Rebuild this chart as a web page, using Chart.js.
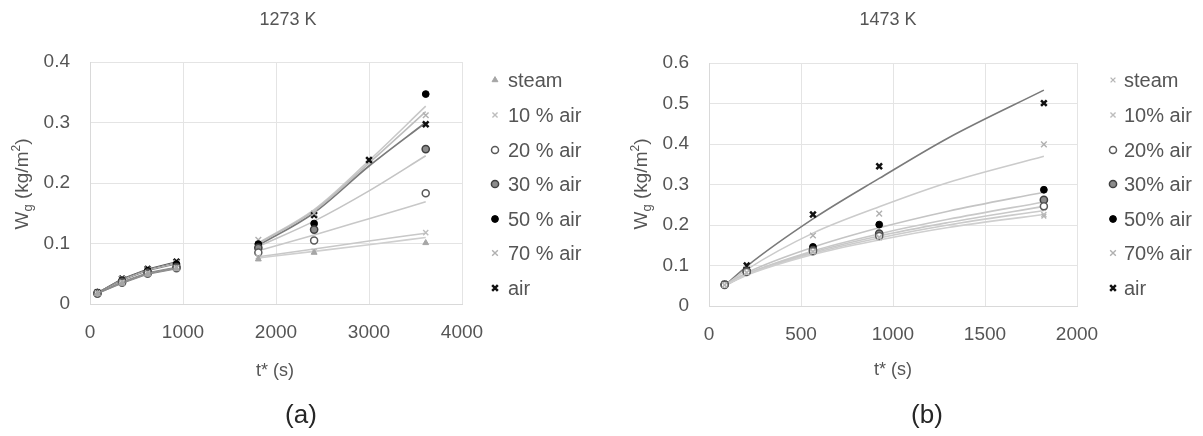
<!DOCTYPE html>
<html><head><meta charset="utf-8">
<script src="https://cdn.jsdelivr.net/npm/chart.js@4.4.1/dist/chart.umd.min.js"></script>
<style>
html,body{margin:0;padding:0;background:#fff;width:1203px;height:436px;overflow:hidden}
#wa{position:absolute;left:0;top:0;width:600px;height:436px}
#wb{position:absolute;left:600px;top:0;width:603px;height:436px}
</style></head><body>
<div id="wa"><canvas id="ca"></canvas></div>
<div id="wb"><canvas id="cb"></canvas></div>
<script>
// ---------- DATA ----------
const seriesNamesA = ['steam', '10 % air', '20 % air', '30 % air', '50 % air', '70 % air', 'air'];
const seriesNamesB = ['steam', '10% air', '20% air', '30% air', '50% air', '70% air', 'air'];

// Panel (a) 1273 K
const timesA1 = [80, 345, 620, 930];
const timesA2 = [1810, 2410, 3000, 3610];
const steamA1 = [0.017, 0.034, 0.049, 0.058];
const air10A1 = [0.018, 0.036, 0.051, 0.060];
const air20A1 = [0.017, 0.035, 0.050, 0.059];
const air30A1 = [0.018, 0.037, 0.052, 0.061];
const air50A1 = [0.019, 0.039, 0.055, 0.066];
const air70A1 = [0.019, 0.041, 0.057, 0.068];
const airA1   = [0.019, 0.042, 0.058, 0.070];
const steamA2 = [0.074, 0.085, null, 0.101];
const air10A2 = [0.078, 0.087, null, 0.118];
const air20A2 = [0.085, 0.105, null, 0.183];
const air30A2 = [0.093, 0.123, null, 0.256];
const air50A2 = [0.099, 0.133, null, 0.347];
const air70A2 = [0.106, 0.150, null, 0.312];
const airA2   = [0.097, 0.147, 0.238, 0.297];
// trend lines
const trendTimesA = [1810, 2410, 3000, 3610];
const steamAfit = [0.076, 0.087, 0.098, 0.110];
const air10Afit = [0.078, 0.091, 0.104, 0.117];
const air20Afit = [0.088, 0.114, 0.141, 0.169];
const air30Afit = [0.095, 0.137, 0.187, 0.245];
const air50Afit = [0.100, 0.154, 0.233, 0.318];
const air70Afit = [0.101, 0.156, 0.237, 0.327];
const airAfit   = [0.097, 0.151, 0.228, 0.300];
const xTickLabelsA = ['0', '1000', '2000', '3000', '4000'];
const yTickLabelsA = ['0', '0.1', '0.2', '0.3', '0.4'];

// Panel (b) 1473 K
const timesB = [85, 205, 565, 925, 1820];
const steamB = [0.052, 0.082, 0.133, 0.168, 0.222];
const air10B = [0.052, 0.083, 0.135, 0.170, 0.226];
const air20B = [0.052, 0.084, 0.135, 0.173, 0.246];
const air30B = [0.053, 0.086, 0.138, 0.179, 0.262];
const air50B = [0.053, 0.088, 0.146, 0.201, 0.287];
const air70B = [0.053, 0.092, 0.174, 0.228, 0.399];
const airB   = [0.054, 0.100, 0.226, 0.345, 0.501];
const trendTimesB = [85, 205, 565, 925, 1300, 1820];
const steamBfit = [0.050, 0.076, 0.127, 0.163, 0.194, 0.226];
const air10Bfit = [0.050, 0.077, 0.130, 0.168, 0.200, 0.236];
const air20Bfit = [0.050, 0.078, 0.133, 0.173, 0.206, 0.246];
const air30Bfit = [0.050, 0.079, 0.136, 0.178, 0.214, 0.257];
const air50Bfit = [0.050, 0.082, 0.145, 0.193, 0.234, 0.281];
const air70Bfit = [0.050, 0.090, 0.180, 0.245, 0.305, 0.370];
const airBfit   = [0.050, 0.098, 0.215, 0.315, 0.415, 0.533];
const xTickLabelsB = ['0', '500', '1000', '1500', '2000'];
const yTickLabelsB = ['0', '0.1', '0.2', '0.3', '0.4', '0.5', '0.6'];

// ---------- STYLES ----------
const FONT = '"Liberation Sans", Arial, sans-serif';
const TXT = '#555555';
const markerStylesA = [
  {ps: 'triangle', fill: '#a6a6a6', stroke: '#a6a6a6', r: 3.4, bw: 1},
  {ps: 'crossRot', fill: '#bdbdbd', stroke: '#bdbdbd', r: 3.6, bw: 1.4},
  {ps: 'circle',   fill: '#ffffff', stroke: '#595959', r: 3.5, bw: 1.5},
  {ps: 'circle',   fill: '#8c8c8c', stroke: '#404040', r: 3.6, bw: 1.5},
  {ps: 'circle',   fill: '#000000', stroke: '#000000', r: 3.4, bw: 1},
  {ps: 'crossRot', fill: '#b0b0b0', stroke: '#b0b0b0', r: 4, bw: 1.4},
  {ps: 'crossRot', fill: '#111111', stroke: '#111111', r: 4, bw: 2.5}
];
const markerStylesB = [
  {ps: 'crossRot', fill: '#b5b5b5', stroke: '#b5b5b5', r: 3.4, bw: 1.3},
  {ps: 'crossRot', fill: '#bdbdbd', stroke: '#bdbdbd', r: 3.6, bw: 1.4},
  {ps: 'circle',   fill: '#ffffff', stroke: '#595959', r: 3.5, bw: 1.5},
  {ps: 'circle',   fill: '#8c8c8c', stroke: '#404040', r: 3.6, bw: 1.5},
  {ps: 'circle',   fill: '#000000', stroke: '#000000', r: 3.4, bw: 1},
  {ps: 'crossRot', fill: '#b0b0b0', stroke: '#b0b0b0', r: 4, bw: 1.4},
  {ps: 'crossRot', fill: '#111111', stroke: '#111111', r: 4, bw: 2.5}
];
const trendColorsA = ['#cfcfcf', '#c8c8c8', '#c8c8c8', '#c4c4c4', '#bdbdbd', '#c8c8c8', '#7a7a7a'];
const trendColorsB = ['#cfcfcf', '#cbcbcb', '#c8c8c8', '#c8c8c8', '#c4c4c4', '#cbcbcb', '#7a7a7a'];

function pts(ts, vs) {
  const out = [];
  ts.forEach((t, i) => { if (vs[i] != null) out.push({x: t, y: vs[i]}); });
  return out;
}
function markerDs(label, data, st, showLine, lineColor) {
  return {
    label, data, showLine: !!showLine,
    borderColor: lineColor || st.stroke, borderWidth: 1,
    pointStyle: st.ps, pointRadius: st.r, pointBorderWidth: st.bw,
    pointBackgroundColor: st.fill, pointBorderColor: st.stroke,
    pointHoverRadius: st.r, order: 1
  };
}
function trendDs(label, data, color, w) {
  return {
    label, data, showLine: true, borderColor: color, borderWidth: w || 1.6,
    pointRadius: 0, pointHoverRadius: 0, cubicInterpolationMode: 'monotone',
    order: 3
  };
}

// ---------- PLUGINS ----------
function richText(ctx, parts, cx, cy, rot) {
  ctx.save();
  ctx.translate(cx, cy);
  if (rot) ctx.rotate(-Math.PI / 2);
  let total = 0;
  parts.forEach(p => { ctx.font = p.size + 'px ' + FONT; p.w = ctx.measureText(p.t).width; total += p.w; });
  let x = -total / 2;
  ctx.textBaseline = 'middle';
  ctx.textAlign = 'left';
  ctx.fillStyle = TXT;
  parts.forEach(p => { ctx.font = p.size + 'px ' + FONT; ctx.fillText(p.t, x, p.dy || 0); x += p.w; });
  ctx.restore();
}
function drawMarker(ctx, st, x, y) {
  ctx.save();
  ctx.fillStyle = st.fill; ctx.strokeStyle = st.stroke; ctx.lineWidth = st.bw;
  if (Chart.helpers && Chart.helpers.drawPoint) {
    Chart.helpers.drawPoint(ctx, {pointStyle: st.ps, radius: st.r, rotation: 0, borderWidth: st.bw}, x, y);
  } else {
    ctx.beginPath(); ctx.arc(x, y, st.r, 0, Math.PI * 2); ctx.fill(); ctx.stroke();
  }
  ctx.restore();
}
function decorPlugin(o) {
  return {
    id: 'decor',
    afterDraw(chart) {
      const ctx = chart.ctx;
      ctx.save();
      ctx.fillStyle = TXT; ctx.textAlign = 'center'; ctx.textBaseline = 'middle';
      ctx.font = '18px ' + FONT;
      ctx.fillText(o.title, o.titleX, o.titleY);
      ctx.font = '18px ' + FONT;
      ctx.fillText('t* (s)', o.xTitleX, o.xTitleY);
      ctx.fillStyle = '#262626';
      ctx.font = '26px ' + FONT;
      ctx.fillText(o.panel, o.panelX, o.panelY);
      ctx.restore();
      richText(ctx, [
        {t: 'W', size: 19, dy: 0}, {t: 'g', size: 13, dy: 5},
        {t: ' (kg/m', size: 19, dy: 0}, {t: '2', size: 12, dy: -6},
        {t: ')', size: 19, dy: 0}
      ], o.yTitleX, o.yTitleY, true);
      o.names.forEach((n, i) => {
        const y = o.legY[i];
        drawMarker(ctx, o.styles[i], o.legMarkX, y);
        ctx.save();
        ctx.fillStyle = TXT; ctx.font = '20px ' + FONT;
        ctx.textAlign = 'left'; ctx.textBaseline = 'middle';
        ctx.fillText(n, o.legTextX, y + 1);
        ctx.restore();
      });
    }
  };
}

function scales(xmax, xstep, xLabels, ymax, ystep, yLabels) {
  return {
    x: {
      type: 'linear', min: 0, max: xmax,
      ticks: {stepSize: xstep, padding: 17, color: TXT, font: {size: 19, family: FONT},
        callback: (v, i) => xLabels[i]},
      grid: {color: '#e4e4e4', drawTicks: false, lineWidth: 1},
      border: {display: true, color: '#d9d9d9'},
      afterFit: s => { s.height = 40; }
    },
    y: {
      type: 'linear', min: 0, max: ymax,
      ticks: {stepSize: ystep, padding: 20, color: TXT, font: {size: 19, family: FONT},
        callback: (v, i) => yLabels[i]},
      grid: {color: '#e4e4e4', drawTicks: false, lineWidth: 1},
      border: {display: true, color: '#d9d9d9'},
      afterFit: s => { s.width = 50; }
    }
  };
}
const baseOpts = {
  responsive: true, maintainAspectRatio: false, animation: false, devicePixelRatio: 1,
  plugins: {legend: {display: false}, tooltip: {enabled: false}, title: {display: false}},
  events: []
};
const legRows = [80, 115, 150, 184, 219, 253, 288];

// ---------- CHART A ----------
const g1A = [steamA1, air10A1, air20A1, air30A1, air50A1, air70A1, airA1];
const g2A = [steamA2, air10A2, air20A2, air30A2, air50A2, air70A2, airA2];
const fitA = [steamAfit, air10Afit, air20Afit, air30Afit, air50Afit, air70Afit, airAfit];
const dsA = [];
seriesNamesA.forEach((n, i) => {
  dsA.push(trendDs(n + ' fit', pts(trendTimesA, fitA[i]), trendColorsA[i], i === 6 ? 1.8 : 1.6));
  dsA.push(markerDs(n, pts(timesA1, g1A[i]), markerStylesA[i], true, i === 6 ? '#555' : '#8a8a8a'));
  dsA.push(markerDs(n, pts(timesA2, g2A[i]), markerStylesA[i], false));
});
new Chart(document.getElementById('ca'), {
  type: 'scatter',
  data: {datasets: dsA},
  options: Object.assign({}, baseOpts, {
    layout: {padding: {left: 40, top: 62, right: 138, bottom: 92}},
    scales: scales(4000, 1000, xTickLabelsA, 0.4, 0.1, yTickLabelsA)
  }),
  plugins: [decorPlugin({
    title: '1273 K', titleX: 288, titleY: 20,
    xTitleX: 275, xTitleY: 371, panel: '(a)', panelX: 301, panelY: 416,
    yTitleX: 23, yTitleY: 184, names: seriesNamesA, styles: markerStylesA, legY: legRows,
    legMarkX: 495, legTextX: 508
  })]
});

// ---------- CHART B ----------
const gB = [steamB, air10B, air20B, air30B, air50B, air70B, airB];
const fitB = [steamBfit, air10Bfit, air20Bfit, air30Bfit, air50Bfit, air70Bfit, airBfit];
const dsB = [];
seriesNamesB.forEach((n, i) => {
  dsB.push(trendDs(n + ' fit', pts(trendTimesB, fitB[i]), trendColorsB[i], 1.6));
  dsB.push(markerDs(n, pts(timesB, gB[i]), markerStylesB[i], false));
});
new Chart(document.getElementById('cb'), {
  type: 'scatter',
  data: {datasets: dsB},
  options: Object.assign({}, baseOpts, {
    layout: {padding: {left: 59, top: 63, right: 126, bottom: 90}},
    scales: scales(2000, 500, xTickLabelsB, 0.6, 0.1, yTickLabelsB)
  }),
  plugins: [decorPlugin({
    title: '1473 K', titleX: 288, titleY: 20,
    xTitleX: 293, xTitleY: 370, panel: '(b)', panelX: 327, panelY: 416,
    yTitleX: 42, yTitleY: 184, names: seriesNamesB, styles: markerStylesB, legY: legRows,
    legMarkX: 513, legTextX: 524
  })]
});
</script>
</body></html>
